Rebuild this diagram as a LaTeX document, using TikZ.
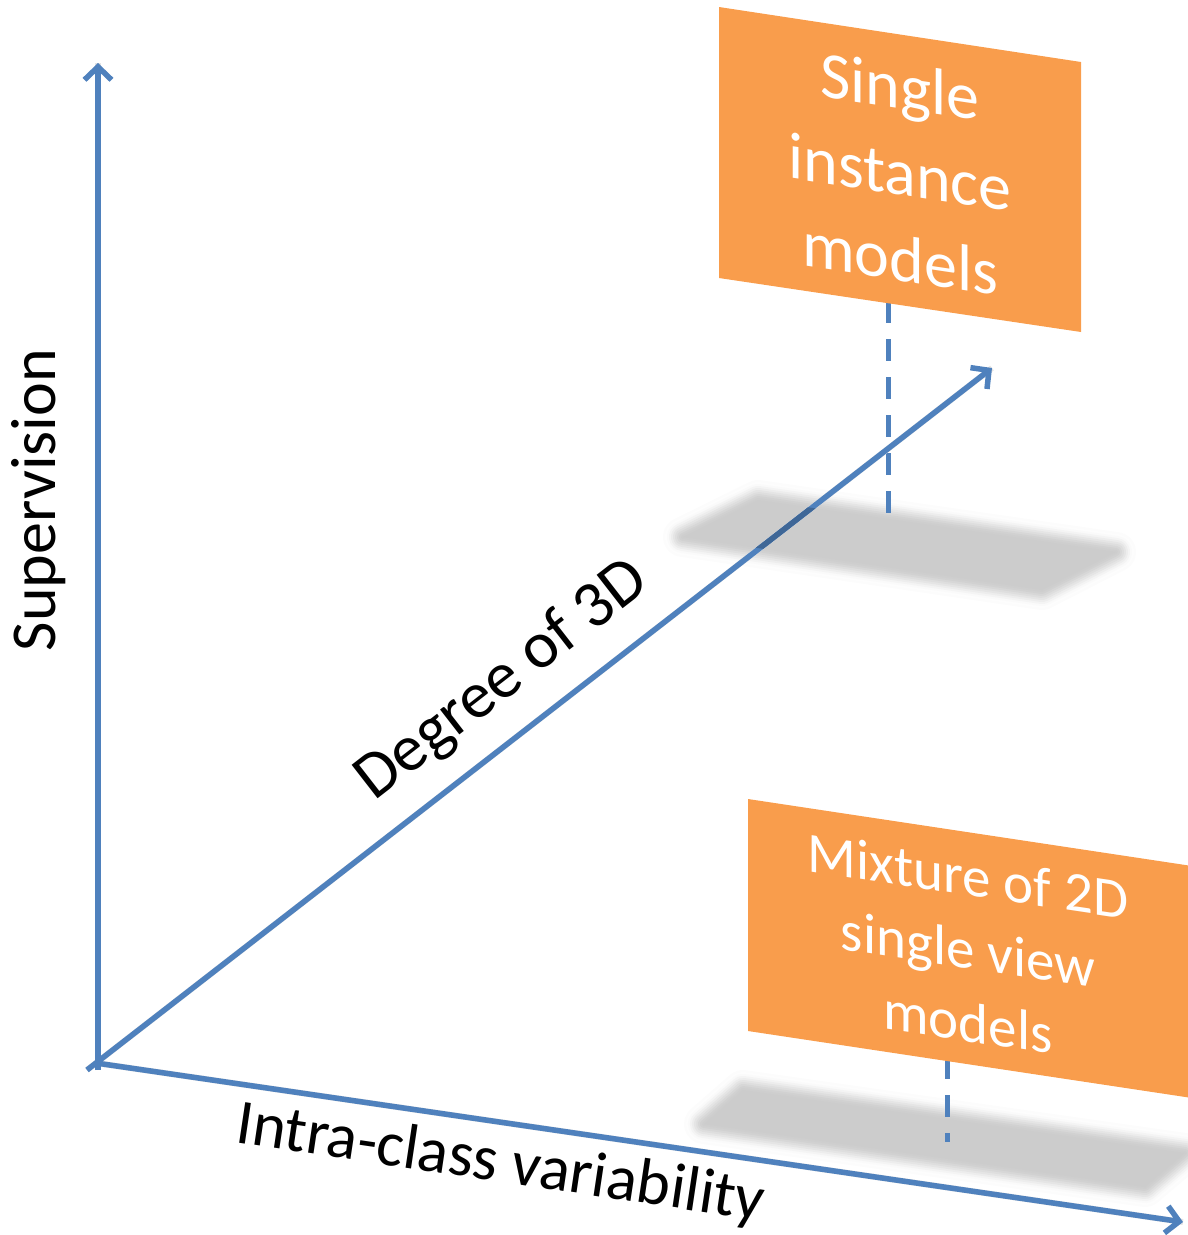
\documentclass[tikz,border=0pt]{standalone}
\usepackage{fontspec}
\setmainfont{Carlito}
\usetikzlibrary{arrows.meta}
\definecolor{axisblue}{HTML}{4F81BD}
\definecolor{axisdark}{HTML}{3F6797}
\definecolor{boxorange}{HTML}{F99D4C}
\tikzset{
  axisline/.style={draw=axisblue, line width=5.5pt},
  axisarrow/.style={axisline, -{Straight Barb[length=13pt,width=27pt]}},
  axisshadow/.style={draw=black!10, line width=6pt, shift={(2,3)}},
  guide/.style={draw=axisblue, line width=5pt, dash pattern=on 22pt off 16pt},
  modelbox/.style={fill=boxorange},
  boxtext/.style={text=white, align=center, inner sep=0pt},
  axislabel/.style={text=black, inner sep=0pt},
}
\begin{document}
\begin{tikzpicture}[x=1pt,y=-1pt]
\useasboundingbox (0,0) rectangle (1187,1235);
% axis end points
\coordinate (vbot) at (98,1070);
\coordinate (vtop) at (98,63);
\coordinate (dbot) at (87,1070);
\coordinate (dtop) at (992,368);
\coordinate (hbot) at (96,1063);
\coordinate (htop) at (1183,1222);
% shadow cores
\coordinate (sa1) at (758,500);
\coordinate (sa2) at (1116,552);
\coordinate (sa3) at (1042,590);
\coordinate (sa4) at (683,537);
\coordinate (sb1) at (743,1090);
\coordinate (sb2) at (1185,1153);
\coordinate (sb3) at (1145,1187);
\coordinate (sb4) at (704,1124);
% box corners
\coordinate (ba1) at (719,7);
\coordinate (ba2) at (1081,62);
\coordinate (ba3) at (1081,332);
\coordinate (ba4) at (719,278);
\coordinate (bb1) at (748,799);
\coordinate (bb2) at (1192,866);
\coordinate (bb3) at (1192,1098);
\coordinate (bb4) at (748,1031);
% dashed guides
\coordinate (ga1) at (888,301);
\coordinate (ga2) at (888,513);
\coordinate (gb1) at (947,1019);
\coordinate (gb2) at (947,1142);

% soft shadows
\foreach \w/\c in {40/1,36/0.6,32/2.1,28/4.3,24/7,20/10,16/13,12/15.7,8/17.9,4/19.4}{
  \draw[line width=\w pt, line join=round, draw=black!\c] (sa1) -- (sa2) -- (sa3) -- (sa4) -- cycle;
  \draw[line width=\w pt, line join=round, draw=black!\c] (sb1) -- (sb2) -- (sb3) -- (sb4) -- cycle;
}
\fill[black!20] (sa1) -- (sa2) -- (sa3) -- (sa4) -- cycle;
\fill[black!20] (sb1) -- (sb2) -- (sb3) -- (sb4) -- cycle;

% dashed guides
\draw[guide] (ga1) -- (ga2);
\draw[guide] (gb1) -- (gb2);

% axis shadows
\draw[axisshadow] (vbot) -- (vtop);
\draw[axisshadow] (dbot) -- (dtop);
\draw[axisshadow] (hbot) -- (htop);

% axes
\draw[axisarrow] (vbot) -- (vtop);
\draw[axisarrow] (hbot) -- (htop);
\draw[axisarrow] (dbot) -- (dtop);
\begin{scope}
  \clip (sa1) -- (sa2) -- (sa3) -- (sa4) -- cycle;
  \draw[axisline, draw=axisdark] (dbot) -- (dtop);
\end{scope}

% boxes
\fill[modelbox] (ba1) -- (ba2) -- (ba3) -- (ba4) -- cycle;
\fill[modelbox] (bb1) -- (bb2) -- (bb3) -- (bb4) -- cycle;
\node[boxtext, font=\fontsize{66}{86}\selectfont, yslant=-0.15] (single) at (900,172) {Single\\instance\\models};
\node[boxtext, font=\fontsize{57}{73}\selectfont, yslant=-0.15] (mixture) at (968,949) {Mixture of 2D\\single view\\models};

% axis labels
\node[axislabel, font=\fontsize{64}{77}\selectfont, rotate=90, anchor=base] (sup) at (55,500) {Supervision};
\node[axislabel, font=\fontsize{66}{79}\selectfont, rotate=37.8, anchor=base west] (deg) at (374,802) {Degree of 3D};
\node[axislabel, font=\fontsize{64}{77}\selectfont, rotate=-8.5, anchor=base west] (intra) at (234,1142) {Intra-class variability};
\end{tikzpicture}
\end{document}
